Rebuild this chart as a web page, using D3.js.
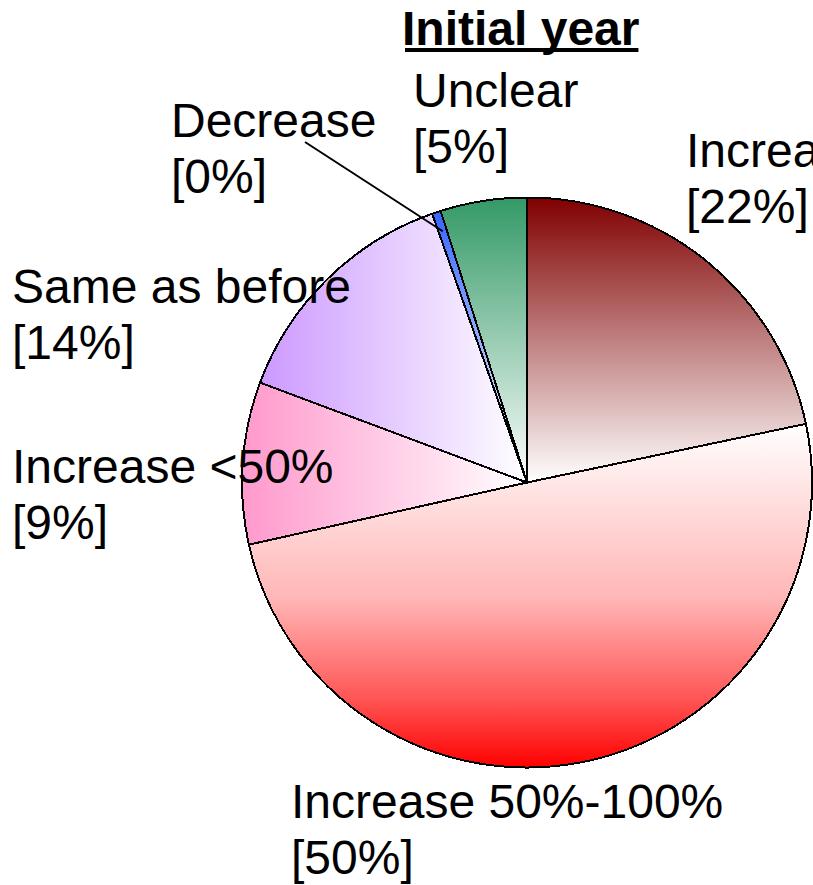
<!DOCTYPE html>
<html>
<head>
<meta charset="utf-8">
<script src="https://cdn.jsdelivr.net/npm/d3@7"></script>
<style>
  html, body { margin: 0; padding: 0; background: #fff; }
  svg { display: block; font-family: "Liberation Sans", Arial, sans-serif; }
</style>
</head>
<body>
<div id="chart"></div>
<script>
// Datos (porcentajes, sentido horario desde las 12)
const TITLE = "Initial year";
const CATEGORIES = ["Increase >100%", "Increase 50%-100%", "Increase <50%", "Same as before", "Decrease", "Unclear"];
const VALUES = [21.7, 49.8, 9.2, 13.9, 0.5, 4.9];
const PCT_LABELS = ["[22%]", "[50%]", "[9%]", "[14%]", "[0%]", "[5%]"];

// Dimensiones
const WIDTH = 813;
const HEIGHT = 885;
const CX = 527;
const CY = 482.5;
const RADIUS = 285;

const svg = d3.select("#chart").append("svg")
    .attr("width", WIDTH)
    .attr("height", HEIGHT);

// Degradados de cada porción (color -> blanco)
const gradients = [
    { id: "g0", x2: 0, y2: 1, stops: [["0", "#800000"], ["1", "#ffffff"]] },
    { id: "g1", x2: 0, y2: 1, stops: [["0", "#ffffff"], ["0.51", "#ffb6b6"], ["0.8", "#ff5555"], ["1", "#ff0000"]] },
    { id: "g2", x2: 1, y2: 0, stops: [["0", "#ff99cc"], ["1", "#ffffff"]] },
    { id: "g3", x2: 1, y2: 0, stops: [["0", "#cc99ff"], ["1", "#ffffff"]] },
    { id: "g4", x2: 0, y2: 1, stops: [["0", "#3366ff"], ["1", "#ffffff"]] },
    { id: "g5", x2: 0, y2: 1, stops: [["0", "#339966"], ["1", "#ffffff"]] }
];

const defs = svg.append("defs");
gradients.forEach(g => {
    const lg = defs.append("linearGradient")
        .attr("id", g.id)
        .attr("x1", 0).attr("y1", 0)
        .attr("x2", g.x2).attr("y2", g.y2);
    g.stops.forEach(s => {
        lg.append("stop").attr("offset", s[0]).attr("stop-color", s[1]);
    });
});

// Pie
const pie = d3.pie().sort(null).value(d => d).startAngle(0).endAngle(2 * Math.PI);
const arc = d3.arc().innerRadius(0).outerRadius(RADIUS);

const pieGroup = svg.append("g")
    .attr("transform", `translate(${CX},${CY})`);

pieGroup.selectAll("path")
    .data(pie(VALUES))
    .enter().append("path")
    .attr("d", arc)
    .attr("fill", (d, i) => `url(#g${i})`)
    .attr("stroke", "#000")
    .attr("stroke-width", 2)
    .attr("stroke-linejoin", "miter")
    .style("shape-rendering", "crispEdges");

// Posiciones de las etiquetas (x izquierda, línea base)
const labelPos = [
    [686, 167],
    [291, 818],
    [12, 483],
    [12, 303],
    [171, 137],
    [413, 107]
];
const LINE_H = 56;

const labels = svg.append("g")
    .style("font-size", "48px")
    .attr("fill", "#000");

CATEGORIES.forEach((c, i) => {
    const t = labels.append("text")
        .attr("x", labelPos[i][0])
        .attr("y", labelPos[i][1]);
    t.append("tspan").attr("x", labelPos[i][0]).text(c);
    t.append("tspan").attr("x", labelPos[i][0]).attr("dy", LINE_H).text(PCT_LABELS[i]);
});

// Línea guía para "Decrease"
const dec = pie(VALUES)[4];
const midA = (dec.startAngle + dec.endAngle) / 2;
const r2 = RADIUS - 20;
svg.append("line")
    .attr("x1", 305).attr("y1", 142)
    .attr("x2", CX + r2 * Math.sin(midA))
    .attr("y2", CY - r2 * Math.cos(midA))
    .attr("stroke", "#000")
    .attr("stroke-width", 2);

// Título subrayado
const title = svg.append("text")
    .attr("x", 402)
    .attr("y", 45)
    .style("font-size", "48px")
    .style("font-weight", "bold")
    .text(TITLE);
const tb = title.node().getBBox();
svg.append("rect")
    .attr("x", tb.x + 3)
    .attr("y", 48)
    .attr("width", tb.width - 4)
    .attr("height", 4)
    .attr("fill", "#000");
</script>
</body>
</html>
